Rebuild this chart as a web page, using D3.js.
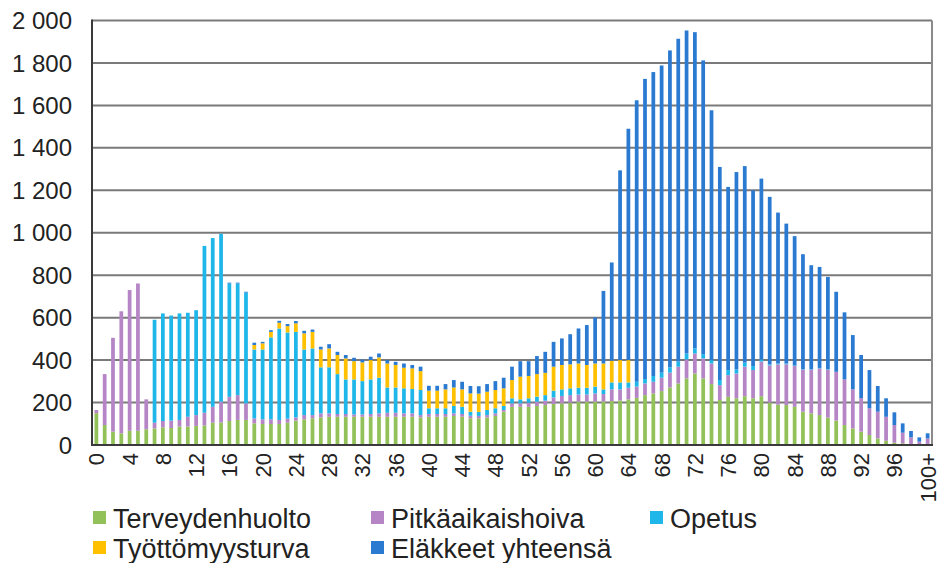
<!DOCTYPE html>
<html>
<head>
<meta charset="utf-8">
<script src="https://cdn.jsdelivr.net/npm/d3@7"></script>
<style>
  body { margin: 0; background: #fff; }
  text { font-family: "Liberation Sans", Arial, sans-serif; fill: #222; }
</style>
</head>
<body>
<svg id="chart" width="939" height="563"></svg>
<script>
// ages 0..99 and 100+
var ages = d3.range(100).map(String).concat(["100+"]);

var terveydenhuolto = [150,94,63,55,67,67,74,78,83,80,87,87,90,92,105,106,113,118,118,
  102,99,99,99,105,115,121,126,130,133,133,133,133,133,133,133,133,133,133,133,130,
  133,133,133,137,133,126,126,130,137,157,180,180,180,184,188,193,196,199,204,204,204,205,207,210,215,
  222,235,243,254,271,290,314,337,314,287,212,227,220,230,220,230,200,190,188,180,157,149,141,129,
  115,94,78,63,47,31,20,11,8,5,2,5];

var pitkaaikaishoiva = [15,240,442,575,663,694,141,27,30,35,31,46,51,60,75,98,114,117,78,
  23,22,22,19,19,15,20,15,19,16,13,13,11,11,13,16,19,19,16,16,11,
  13,13,13,12,13,12,11,11,12,8,16,16,19,20,21,31,35,36,34,34,39,35,55,52,55,
  53,55,55,63,70,79,89,94,94,97,70,102,117,139,133,163,175,190,192,192,198,206,220,226,
  230,215,184,157,126,126,113,83,50,31,14,26];

var opetus = [0,0,0,0,0,0,0,485,507,495,502,490,494,786,795,791,534,526,522,
  325,329,386,431,406,403,309,314,217,217,188,163,165,157,163,168,119,119,118,115,118,
  27,27,27,35,34,19,19,24,24,19,24,19,21,24,26,32,31,32,32,32,32,22,33,33,25,
  23,21,27,24,25,24,28,24,20,16,24,24,19,19,19,10,5,4,4,3,2,2,2,2,
  0,0,0,0,0,0,0,0,0,0,0,0];

var tyottomyysturva = [0,0,0,0,0,0,0,0,0,0,0,0,0,0,0,0,0,0,0,
  21,29,26,27,30,40,76,78,84,89,90,99,86,88,91,96,113,106,97,97,89,
  83,83,89,87,82,86,86,86,86,83,86,107,105,106,105,113,115,113,114,107,109,122,102,105,105,
  0,0,0,0,0,0,0,0,0,0,0,0,0,0,0,0,0,0,0,0,0,0,0,0,
  0,0,0,0,0,0,0,0,0,0,0,0];

var elakkeet = [0,0,0,0,0,0,0,0,0,0,0,0,0,0,0,0,4,4,4,
  11,7,8,9,10,11,12,11,13,20,15,16,16,14,16,18,16,15,20,16,21,
  23,23,25,35,36,35,35,36,42,50,63,73,70,85,99,117,125,142,165,188,217,342,463,894,1090,
  1326,1414,1432,1447,1493,1521,1522,1490,1384,1177,1004,863,930,926,828,852,789,711,659,609,542,490,476,435,
  377,316,256,204,180,121,87,60,44,30,20,24];

var seriesNames = ["Terveydenhuolto", "Pitkäaikaishoiva", "Opetus", "Työttömyysturva", "Eläkkeet yhteensä"];
var seriesColors = ["#92c15a", "#b585c6", "#1fb7ea", "#ffc000", "#2a7ad2"];
var yTicks = [0,200,400,600,800,1000,1200,1400,1600,1800,2000];

// build table for d3.stack
var rows = ages.map(function(a, i) {
  return {age: a, s0: terveydenhuolto[i], s1: pitkaaikaishoiva[i], s2: opetus[i], s3: tyottomyysturva[i], s4: elakkeet[i]};
});

var svg = d3.select("#chart");
var plotLeft = 92, plotRight = 932, plotTop = 20.5, plotBottom = 445;

var x = d3.scaleBand().domain(ages).range([plotLeft, plotRight]).paddingInner(0.55).paddingOuter(0.3);
var y = d3.scaleLinear().domain([0, 2000]).range([plotBottom, plotTop]);

var fmt = d3.formatLocale({decimal: ",", thousands: " ", grouping: [3], currency: ["", ""]}).format(",d");

// gridlines
svg.append("g").selectAll("line").data(yTicks.slice(1)).join("line")
  .attr("x1", plotLeft).attr("x2", plotRight)
  .attr("y1", function(d){ return y(d); }).attr("y2", function(d){ return y(d); })
  .attr("stroke", "#7a7a7a").attr("stroke-width", 2);

// right border
svg.append("line").attr("x1", plotRight).attr("x2", plotRight).attr("y1", plotTop).attr("y2", plotBottom)
  .attr("stroke", "#8a8a8a").attr("stroke-width", 2);

// stacked bars
var stacked = d3.stack().keys(["s0","s1","s2","s3","s4"])(rows);
svg.append("g").selectAll("g").data(stacked).join("g")
  .attr("fill", function(d, i){ return seriesColors[i]; })
  .selectAll("rect").data(function(d){ return d; }).join("rect")
  .attr("x", function(d){ return x(d.data.age); })
  .attr("width", x.bandwidth())
  .attr("y", function(d){ return y(d[1]); })
  .attr("height", function(d){ return y(d[0]) - y(d[1]); });

// axes lines
svg.append("line").attr("x1", plotLeft).attr("x2", plotLeft).attr("y1", plotTop - 1).attr("y2", plotBottom + 1)
  .attr("stroke", "#3a3a3a").attr("stroke-width", 2);
svg.append("line").attr("x1", plotLeft - 1).attr("x2", plotRight + 1).attr("y1", plotBottom).attr("y2", plotBottom)
  .attr("stroke", "#3a3a3a").attr("stroke-width", 2);

// y tick labels
svg.append("g").selectAll("text").data(yTicks).join("text")
  .attr("x", 72).attr("y", function(d){ return y(d); })
  .attr("dy", "0.36em").attr("text-anchor", "end")
  .style("font-size", "24px")
  .text(function(d){ return fmt(d); });

// x tick labels, every 4th age, rotated
var xLabels = ages.filter(function(a, i){ return i % 4 === 0; });
svg.append("g").selectAll("text").data(xLabels).join("text")
  .attr("transform", function(d){ return "translate(" + (x(d) + x.bandwidth() / 2) + "," + (plotBottom + 8) + ") rotate(-90)"; })
  .attr("dy", "0.36em").attr("text-anchor", "end")
  .style("font-size", "22px")
  .text(function(d){ return d; });

// legend
var legendPos = [[93, 518], [371, 518], [650, 518], [93, 548], [371, 548]];
var legend = svg.append("g").selectAll("g").data(seriesNames).join("g")
  .attr("transform", function(d, i){ return "translate(" + legendPos[i][0] + "," + legendPos[i][1] + ")"; });
legend.append("rect").attr("x", 0).attr("y", -7).attr("width", 13).attr("height", 13)
  .attr("fill", function(d, i){ return seriesColors[i]; });
legend.append("text").attr("x", 20).attr("y", 0).attr("dy", "0.36em")
  .style("font-size", "27px")
  .text(function(d){ return d; });
</script>
</body>
</html>
